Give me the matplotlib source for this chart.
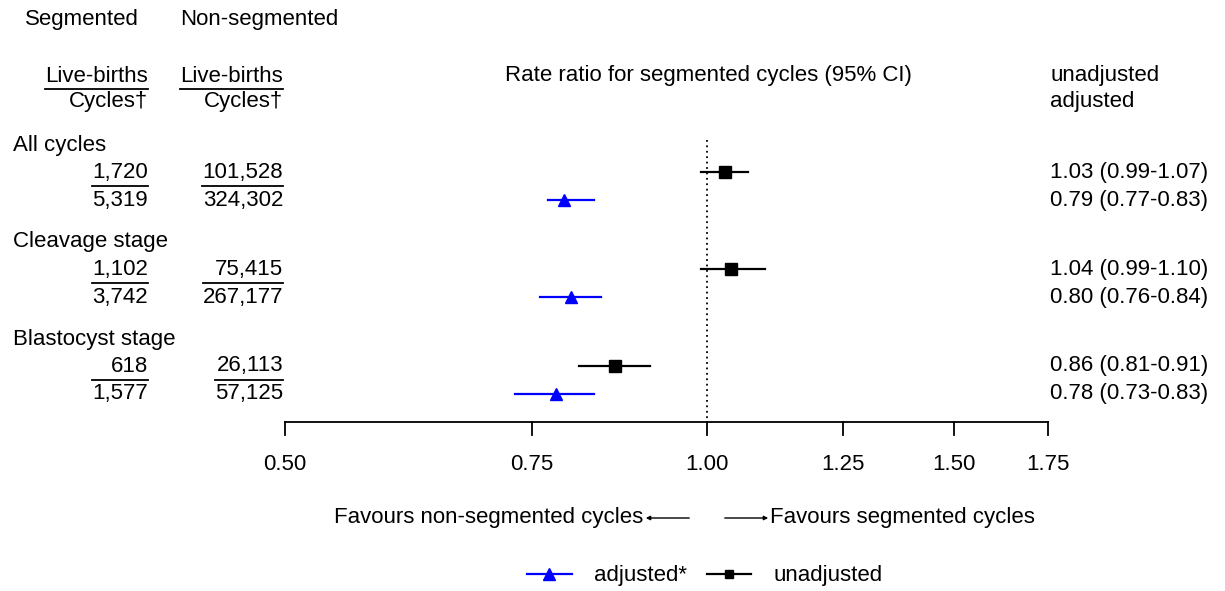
import numpy as np
import matplotlib.pyplot as plt
from matplotlib.lines import Line2D

plt.rcParams['font.family'] = ['Liberation Sans', 'DejaVu Sans']

W, H = 1225, 591

# data
groups = ['All cycles', 'Cleavage stage', 'Blastocyst stage']
seg_births = ['1,720', '1,102', '618']
seg_cycles = ['5,319', '3,742', '1,577']
non_births = ['101,528', '75,415', '26,113']
non_cycles = ['324,302', '267,177', '57,125']

unadj_est = [1.03, 1.04, 0.86]
unadj_lo = [0.99, 0.99, 0.81]
unadj_hi = [1.07, 1.10, 0.91]
adj_est = [0.79, 0.80, 0.78]
adj_lo = [0.77, 0.76, 0.73]
adj_hi = [0.83, 0.84, 0.83]

ticks = [0.50, 0.75, 1.00, 1.25, 1.50, 1.75]

fig = plt.figure(figsize=(W / 100, H / 100), dpi=100)
# axes spans x pixel 285..1048 and the full height (y in pixels, top=0)
ax = fig.add_axes([285 / W, 0, (1048 - 285) / W, 1])
ax.set_xscale('log')
ax.set_xlim(0.5, 1.75)
ax.set_ylim(H, 0)
ax.axis('off')

FS = 16

def ftext(x, y, s, ha='left', **kw):
    return fig.text(x / W, 1 - y / H, s, ha=ha, va='center', fontsize=FS, **kw)

# row positions (pixels)
row0 = [172, 269, 366]
row1 = [200, 297, 394]
head = [145, 242, 339]

# forest plot marks
for i in range(3):
    ax.plot([unadj_lo[i], unadj_hi[i]], [row0[i], row0[i]], color='black', lw=1.6)
    ax.plot(unadj_est[i], row0[i], marker='s', color='black', ms=9, ls='none')
    ax.plot([adj_lo[i], adj_hi[i]], [row1[i], row1[i]], color='blue', lw=1.6)
    ax.plot(adj_est[i], row1[i], marker='^', color='blue', ms=9, ls='none')

ax.plot([1, 1], [140, 422], color='black', ls=(0, (1, 2)), lw=1.3)

# x axis
ax.plot([0.5, 1.75], [422, 422], color='black', lw=1.3, clip_on=False)
for t in ticks:
    ax.plot([t, t], [422, 435], color='black', lw=1.3, clip_on=False)
    ax.text(t, 464, f'{t:.2f}', ha='center', va='center', fontsize=FS)

# headers
ftext(25, 20, 'Segmented')
ftext(180, 20, 'Non-segmented')
ftext(708, 76, 'Rate ratio for segmented cycles (95% CI)', ha='center')
ftext(1050, 76, 'unadjusted')
ftext(1050, 102, 'adjusted')

fig.canvas.draw()
rend = fig.canvas.get_renderer()

def fraction(xr, y1, y2, top, bottom):
    t1 = ftext(xr, y1, top, ha='right')
    t2 = ftext(xr, y2, bottom, ha='right')
    w = max(t1.get_window_extent(rend).width, t2.get_window_extent(rend).width)
    ym = (y1 + y2) / 2
    fig.add_artist(Line2D([(xr - w) / W, xr / W], [1 - ym / H, 1 - ym / H],
                          color='black', lw=1.3))

fraction(148, 76, 102, 'Live-births', 'Cycles†')
fraction(283, 76, 102, 'Live-births', 'Cycles†')

for i in range(3):
    ftext(13, head[i], groups[i])
    fraction(148, row0[i], row1[i], seg_births[i], seg_cycles[i])
    fraction(283, row0[i], row1[i], non_births[i], non_cycles[i])
    ftext(1050, row0[i], f'{unadj_est[i]:.2f} ({unadj_lo[i]:.2f}-{unadj_hi[i]:.2f})')
    ftext(1050, row1[i], f'{adj_est[i]:.2f} ({adj_lo[i]:.2f}-{adj_hi[i]:.2f})')

# favours arrows
ftext(643, 518, 'Favours non-segmented cycles', ha='right')
ftext(770, 518, 'Favours segmented cycles')
fig.add_artist(plt.Annotation('', xy=(643 / W, 1 - 518 / H), xytext=(692 / W, 1 - 518 / H),
                              xycoords='figure fraction',
                              arrowprops=dict(arrowstyle='-|>', color='black', lw=1,
                                              mutation_scale=6)))
fig.add_artist(plt.Annotation('', xy=(771 / W, 1 - 518 / H), xytext=(722 / W, 1 - 518 / H),
                              xycoords='figure fraction',
                              arrowprops=dict(arrowstyle='-|>', color='black', lw=1,
                                              mutation_scale=6)))

# legend
handles = [Line2D([], [], color='blue', marker='^', ms=8, lw=1.6),
           Line2D([], [], color='black', marker='s', ms=6, lw=1.6)]
fig.legend(handles, ['adjusted*', 'unadjusted'], loc='center',
           bbox_to_anchor=(705 / W, 1 - 576 / H), ncol=2, frameon=False,
           fontsize=FS, handlelength=2.0, columnspacing=0.9, handletextpad=1.0)

fig.savefig('out.png', dpi=100)
